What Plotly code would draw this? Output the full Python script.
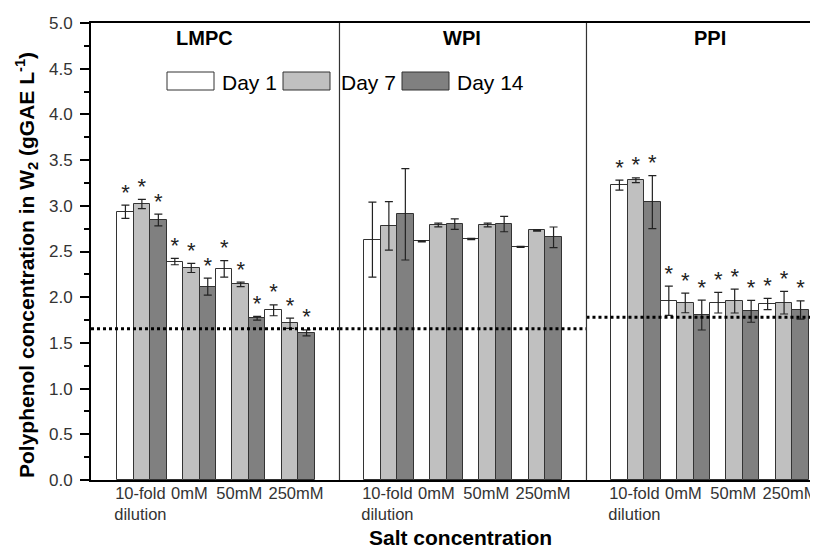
import plotly.graph_objects as go

# ---------------- data ----------------
panels = ["LMPC", "WPI", "PPI"]
groups = ["10-fold<br>dilution", "0mM", "50mM", "250mM"]
days = ["Day 1", "Day 7", "Day 14"]
colors = ["#ffffff", "#c0c0c0", "#808080"]

lmpc_day1 = [2.935, 2.39, 2.31, 1.857]
lmpc_day7 = [3.02, 2.32, 2.14, 1.714]
lmpc_day14 = [2.845, 2.115, 1.77, 1.61]
lmpc_err1 = [0.073, 0.035, 0.09, 0.06]
lmpc_err7 = [0.05, 0.05, 0.025, 0.056]
lmpc_err14 = [0.064, 0.093, 0.02, 0.033]

wpi_day1 = [2.63, 2.61, 2.637, 2.55]
wpi_day7 = [2.78, 2.79, 2.79, 2.73]
wpi_day14 = [2.907, 2.80, 2.80, 2.655]
wpi_err1 = [0.41, 0.006, 0.006, 0.006]
wpi_err7 = [0.265, 0.02, 0.02, 0.006]
wpi_err14 = [0.50, 0.058, 0.084, 0.113]

ppi_day1 = [3.227, 1.962, 1.94, 1.926]
ppi_day7 = [3.28, 1.937, 1.958, 1.94]
ppi_day14 = [3.04, 1.805, 1.846, 1.86]
ppi_err1 = [0.055, 0.16, 0.113, 0.062]
ppi_err7 = [0.026, 0.107, 0.131, 0.124]
ppi_err14 = [0.29, 0.164, 0.12, 0.10]

# significance markers (1 = asterisk)
lmpc_sig = [[1, 1, 1, 1], [1, 1, 1, 1], [1, 1, 1, 1]]
wpi_sig = [[0, 0, 0, 0], [0, 0, 0, 0], [0, 0, 0, 0]]
ppi_sig = [[1, 1, 1, 1], [1, 1, 1, 1], [1, 1, 1, 1]]

control_values = [1.655, 1.655, 1.78]

yticks = [0.0, 0.5, 1.0, 1.5, 2.0, 2.5, 3.0, 3.5, 4.0, 4.5, 5.0]

values = [[lmpc_day1, lmpc_day7, lmpc_day14],
          [wpi_day1, wpi_day7, wpi_day14],
          [ppi_day1, ppi_day7, ppi_day14]]
errors = [[lmpc_err1, lmpc_err7, lmpc_err14],
          [wpi_err1, wpi_err7, wpi_err14],
          [ppi_err1, ppi_err7, ppi_err14]]
sigs = [lmpc_sig, wpi_sig, ppi_sig]

# ---------------- layout helpers ----------------
PANEL = 5
UNIT_PX = 49.4
FONT = "Arial, Liberation Sans, sans-serif"
OFF = 8                      # page body margin
W, H = 818 - OFF, 550 - OFF
ML, MT, MB = 91 - OFF, 23 - OFF, 70
plot_w = W - ML
plot_h = H - MT - MB
label_shift = [-0.03, -0.04, -0.03, 0.12]   # tick label nudge within a panel

def px_x(px):  # window pixel -> paper x
    return (px - OFF - ML) / plot_w

def px_y(py):  # window pixel -> paper y
    return (H - MB - (py - OFF)) / plot_h

xpos = [p * PANEL + 1 + g for p in range(len(panels)) for g in range(len(groups))]
label_pos = [p * PANEL + 1 + g + label_shift[g] for p in range(len(panels)) for g in range(len(groups))]

fig = go.Figure()
offsets = [-1 / 3, 0, 1 / 3]
for d, day in enumerate(days):
    yv, ev = [], []
    for p in range(len(panels)):
        yv += values[p][d]
        ev += errors[p][d]
    fig.add_trace(go.Bar(
        x=xpos, y=yv, name=day, showlegend=False,
        marker=dict(color=colors[d], line=dict(color="#333333", width=1)),
        error_y=dict(type="data", array=ev, color="#222222", thickness=1.2, width=4),
    ))
    sx, sy = [], []
    for p in range(len(panels)):
        for g in range(len(groups)):
            if sigs[p][d][g]:
                sx.append(p * PANEL + 1 + g + offsets[d])
                sy.append(values[p][d][g] + errors[p][d][g])
    fig.add_trace(go.Scatter(
        x=sx, y=sy, mode="text", text=["*"] * len(sx), textposition="top center",
        textfont=dict(family=FONT, size=22, color="#222222"), showlegend=False,
        hoverinfo="skip"))

# control dotted lines
for p, cv in enumerate(control_values):
    x0 = p * PANEL
    x1 = (p + 1) * PANEL
    if p == 0:
        x0 = -0.03
    if p == len(panels) - 1:
        x1 = 15
    fig.add_trace(go.Scatter(
        x=[x0, x1], y=[cv, cv], mode="lines",
        line=dict(color="black", width=3, dash="dot"), showlegend=False,
        hoverinfo="skip"))

# panel dividers
for p in range(1, len(panels)):
    fig.add_shape(type="line", xref="x", yref="paper", x0=p * PANEL, x1=p * PANEL,
                  y0=0, y1=1, line=dict(color="#333333", width=1.2))

# panel titles
title_x = [2.27, 7.47, 12.5]
for p, name in enumerate(panels):
    fig.add_annotation(x=title_x[p], y=px_y(38), xref="x", yref="paper", text="<b>%s</b>" % name,
                       xanchor="center", yanchor="middle",
                       showarrow=False, font=dict(family=FONT, size=20, color="black"))

# custom legend
sw_x = [167, 283, 402]
tx_x = [220, 339, 455]
for d, day in enumerate(days):
    fig.add_shape(type="rect", xref="paper", yref="paper",
                  x0=px_x(sw_x[d]), x1=px_x(sw_x[d] + 47), y0=px_y(90), y1=px_y(72),
                  fillcolor=colors[d], line=dict(color="#333333", width=1))
    fig.add_annotation(x=px_x(tx_x[d]), y=px_y(82), xref="paper", yref="paper", text=day,
                       xanchor="left", yanchor="middle", showarrow=False,
                       font=dict(family=FONT, size=21, color="black"))

# axis titles
fig.add_annotation(x=px_x(460), y=px_y(537), xref="paper", yref="paper",
                   text="<b>Salt concentration</b>", showarrow=False,
                   xanchor="center", yanchor="middle",
                   font=dict(family=FONT, size=21, color="black"))
fig.add_annotation(x=px_x(26), y=px_y(265), xref="paper", yref="paper", textangle=-90,
                   text="<b>Polyphenol concentration in W<sub>2</sub> (gGAE L<sup>-1</sup>)</b>",
                   showarrow=False, xanchor="center", yanchor="middle",
                   font=dict(family=FONT, size=21, color="black"))

fig.update_layout(
    width=W, height=H, margin=dict(l=ML, r=0, t=MT, b=MB, autoexpand=False),
    paper_bgcolor="white", plot_bgcolor="white",
    barmode="group", bargap=0, bargroupgap=0,
    font=dict(family=FONT, color="#333333"),
    xaxis=dict(range=[-0.03, plot_w / UNIT_PX - 0.03], tickvals=label_pos,
               ticktext=groups * len(panels), tickangle=0, automargin=False,
               ticklabelstandoff=-3, ticklabeloverflow="allow",
               showgrid=False, zeroline=False, showline=True, linecolor="black", linewidth=2,
               mirror=True, ticks="", tickfont=dict(family=FONT, size=16.5, color="#333333")),
    yaxis=dict(range=[0, 5], tickvals=yticks, ticktext=["%.1f" % v for v in yticks],
               automargin=False, ticklabelstandoff=4,
               showgrid=False, zeroline=False, showline=True, linecolor="black", linewidth=2,
               ticks="outside", ticklen=9, tickwidth=1.5, tickcolor="black",
               minor=dict(ticks="outside", ticklen=5, tickwidth=1.5, tickcolor="black", dtick=0.25),
               tickfont=dict(family=FONT, size=17, color="#333333")),
)

fig.write_html("out.html")
